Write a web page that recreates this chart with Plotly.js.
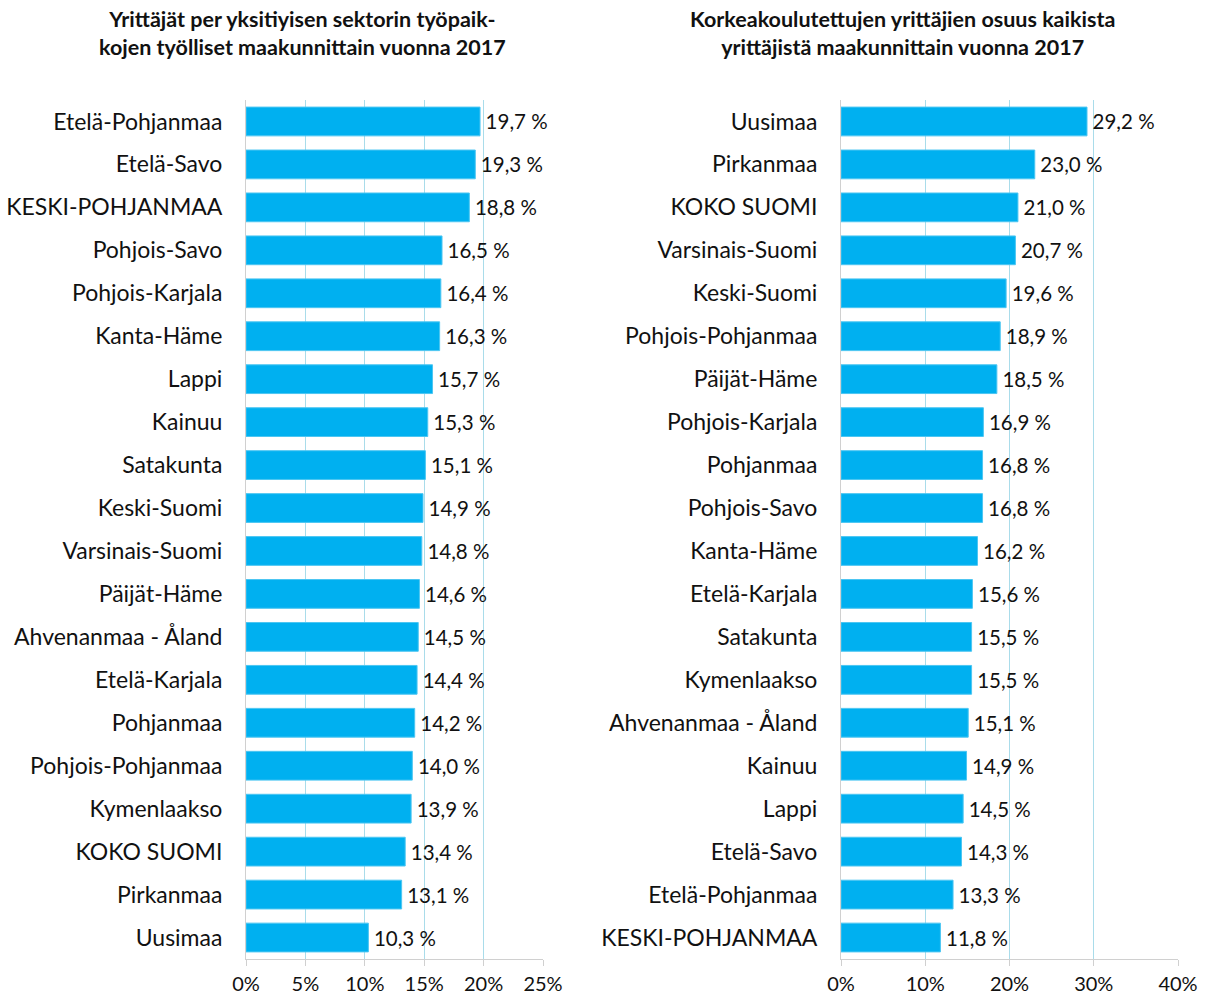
<!DOCTYPE html>
<html>
<head>
<meta charset="utf-8">
<script src="https://cdn.plot.ly/plotly-3.0.1.min.js"></script>
<style>html,body{margin:0;padding:0;background:#fff;}#chart{width:1205px;height:999px;}</style>
</head>
<body>
<div id="chart"></div>
<script>
const leftTitle = "Yrittäjät per yksitiyisen sektorin työpaik-<br>kojen työlliset maakunnittain vuonna 2017";
const rightTitle = "Korkeakoulutettujen yrittäjien osuus kaikista<br>yrittäjistä maakunnittain vuonna 2017";

const leftCategories = ["Etelä-Pohjanmaa","Etelä-Savo","KESKI-POHJANMAA","Pohjois-Savo","Pohjois-Karjala","Kanta-Häme","Lappi","Kainuu","Satakunta","Keski-Suomi","Varsinais-Suomi","Päijät-Häme","Ahvenanmaa - Åland","Etelä-Karjala","Pohjanmaa","Pohjois-Pohjanmaa","Kymenlaakso","KOKO SUOMI","Pirkanmaa","Uusimaa"];
const leftValues = [19.7,19.3,18.8,16.5,16.4,16.3,15.7,15.3,15.1,14.9,14.8,14.6,14.5,14.4,14.2,14.0,13.9,13.4,13.1,10.3];

const rightCategories = ["Uusimaa","Pirkanmaa","KOKO SUOMI","Varsinais-Suomi","Keski-Suomi","Pohjois-Pohjanmaa","Päijät-Häme","Pohjois-Karjala","Pohjanmaa","Pohjois-Savo","Kanta-Häme","Etelä-Karjala","Satakunta","Kymenlaakso","Ahvenanmaa - Åland","Kainuu","Lappi","Etelä-Savo","Etelä-Pohjanmaa","KESKI-POHJANMAA"];
const rightValues = [29.2,23.0,21.0,20.7,19.6,18.9,18.5,16.9,16.8,16.8,16.2,15.6,15.5,15.5,15.1,14.9,14.5,14.3,13.3,11.8];

const leftTicks = [0,5,10,15,20,25];
const rightTicks = [0,10,20,30,40];

const FONT = "Lato, 'Open Sans', sans-serif";
const fmt = v => '\u2009' + v.toFixed(1).replace('.', ',') + ' %';

const H = 959; // plotting height above bottom margin

function barTrace(cats, vals, xa, ya) {
  return {
    type: 'bar', orientation: 'h',
    y: cats, x: vals,
    xaxis: xa, yaxis: ya,
    marker: {color: '#00B0F0', line: {color: '#4cc6f2', width: 1}},
    text: vals.map(fmt),
    textposition: 'outside',
    cliponaxis: false,
    textfont: {family: FONT, size: 20.5, color: '#111'},
    hoverinfo: 'none'
  };
}

const xCommon = {
  showgrid: true, gridcolor: '#a9dcea', gridwidth: 1,
  zeroline: false,
  showline: true, linecolor: '#d0d0d0', linewidth: 1,
  ticks: 'outside', ticklen: 6, tickcolor: '#d0d0d0',
  ticklabelstandoff: 1,
  tickfont: {family: FONT, size: 20, color: '#111'},
  fixedrange: true
};
const yCommon = {
  type: 'category', autorange: 'reversed',
  showline: true, linecolor: '#d0d0d0', linewidth: 1,
  ticks: '', showgrid: false, zeroline: false,
  ticklabelstandoff: 18,
  tickfont: {family: FONT, size: 23, color: '#111'},
  fixedrange: true
};

const layout = {
  width: 1205, height: 999,
  margin: {l: 0, r: 0, t: 0, b: 40},
  paper_bgcolor: '#fff', plot_bgcolor: 'rgba(0,0,0,0)',
  showlegend: false,
  bargap: 0.33,
  xaxis: Object.assign({}, xCommon, {domain: [246/1205, 543/1205], range: [0, 25], tickvals: leftTicks, ticktext: leftTicks.map(t => t + '%'), anchor: 'y'}),
  yaxis: Object.assign({}, yCommon, {domain: [0, 1 - 100/H], anchor: 'x'}),
  xaxis2: Object.assign({}, xCommon, {domain: [841/1205, 1178/1205], range: [0, 40], tickvals: rightTicks, ticktext: rightTicks.map(t => t + '%'), anchor: 'y2'}),
  yaxis2: Object.assign({}, yCommon, {domain: [0, 1 - 100/H], anchor: 'x2'}),
  annotations: [
    {text: '<b>' + leftTitle + '</b>', xref: 'paper', yref: 'paper', x: 302/1205, y: 1 - 33/H, xanchor: 'center', yanchor: 'middle', showarrow: false, align: 'center', font: {family: FONT, size: 21.5, color: '#111'}},
    {text: '<b>' + rightTitle + '</b>', xref: 'paper', yref: 'paper', x: 902/1205, y: 1 - 33/H, xanchor: 'center', yanchor: 'middle', showarrow: false, align: 'center', font: {family: FONT, size: 21.5, color: '#111'}}
  ]
};

Plotly.newPlot('chart', [
  barTrace(leftCategories, leftValues, 'x', 'y'),
  barTrace(rightCategories, rightValues, 'x2', 'y2')
], layout, {displayModeBar: false, staticPlot: true});
</script>
</body>
</html>
